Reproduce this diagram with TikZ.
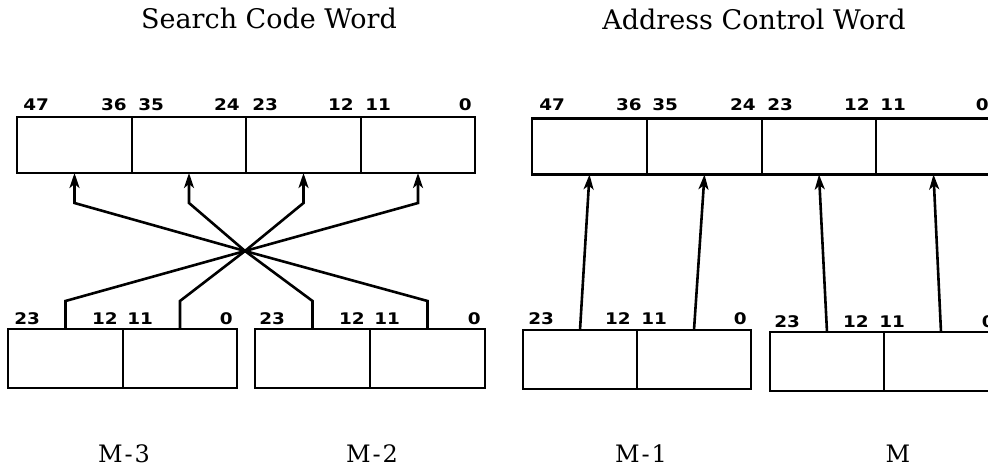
\documentclass[tikz,border=0pt]{standalone}
\usepackage{fontspec}
\setmainfont{DejaVu Serif}
\newfontfamily\bitfont{DejaVu Sans}[FakeStretch=1.15]
\usetikzlibrary{arrows.meta}
\begin{document}
\begin{tikzpicture}[x=1pt,y=-1pt,line width=2.6pt,
  cell/.style={draw,rectangle,inner sep=0pt,outer sep=0pt,minimum width=#1},
  toph/.style={minimum height=56pt},
  both/.style={minimum height=59pt},
  bit/.style={font={\bitfont\bfseries\fontsize{16pt}{16pt}\selectfont},inner sep=0pt},
  bitl/.style={bit,anchor=base west},
  bitr/.style={bit,anchor=base east},
  title/.style={font={\fontsize{27pt}{27pt}\selectfont},inner sep=0pt,anchor=base},
  mname/.style={font={\fontsize{24pt}{24pt}\selectfont},inner sep=0pt,anchor=base},
  conn/.style={line width=2.6pt,line join=miter},
  arr/.style={-{Stealth[length=15pt,width=10pt,inset=4pt]}}]
\useasboundingbox (0,0) rectangle (988,470);
\clip (0,0) rectangle (988,470);

% titles
\node[title] (tsearch) at (269,29) {Search Code Word};
\node[title] (taddr) at (754,30) {Address Control Word};

% ---------- left: search code word ----------
\node[cell=115pt,toph] (t1) at (74.5,145) {};
\node[cell=114pt,toph] (t2) at (189,145) {};
\node[cell=115pt,toph] (t3) at (303.5,145) {};
\node[cell=114pt,toph] (t4) at (418,145) {};
\node[bitl] (l47) at (22,111) {47};
\node[bitr] (l36) at (128,111) {36};
\node[bitl] (l35) at (137,111) {35};
\node[bitr] (l24) at (241,111) {24};
\node[bitl] (l23) at (251,111) {23};
\node[bitr] (l12) at (355,111) {12};
\node[bitl] (l11) at (364,111) {11};
\node[bitr] (l0) at (473,111) {0};

% M-3 and M-2
\node[cell=115pt,both] (b1) at (65.5,358.5) {};
\node[cell=114pt,both] (b2) at (180,358.5) {};
\node[cell=115pt,both] (b3) at (312.5,358.5) {};
\node[cell=115pt,both] (b4) at (427.5,358.5) {};
\node[bitl] (m3a) at (13,324) {23};
\node[bitr] (m3b) at (119,324) {12};
\node[bitl] (m3c) at (126,324) {11};
\node[bitr] (m3d) at (234,324) {0};
\node[bitl] (m2a) at (258,324) {23};
\node[bitr] (m2b) at (366,324) {12};
\node[bitl] (m2c) at (373,324) {11};
\node[bitr] (m2d) at (482,324) {0};

\coordinate (X) at (245,251);
\draw[conn,arr] (b1.north) -- ++(0,-28) -- (X) -- ([yshift=-30pt]t4.south) -- (t4.south);
\draw[conn,arr] (b2.north) -- ++(0,-28) -- (X) -- ([yshift=-30pt]t3.south) -- (t3.south);
\draw[conn,arr] (b3.north) -- ++(0,-28) -- (X) -- ([yshift=-30pt]t2.south) -- (t2.south);
\draw[conn,arr] (b4.north) -- ++(0,-28) -- (X) -- ([yshift=-30pt]t1.south) -- (t1.south);

% ---------- right: address control word ----------
\node[cell=115pt,toph] (r1) at (589.5,146.5) {};
\node[cell=115pt,toph] (r2) at (704.5,146.5) {};
\node[cell=114pt,toph] (r3) at (819,146.5) {};
\node[cell=115pt,toph] (r4) at (933.5,146.5) {};
\node[bitl] (q47) at (538,111) {47};
\node[bitr] (q36) at (643,111) {36};
\node[bitl] (q35) at (651,111) {35};
\node[bitr] (q24) at (757,111) {24};
\node[bitl] (q23) at (766,111) {23};
\node[bitr] (q12) at (871,111) {12};
\node[bitl] (q11) at (879,111) {11};
\node[bitr] (q0) at (990,111) {0};

% M-1 and M
\node[cell=114pt,both] (c1) at (580,359.5) {};
\node[cell=114pt,both] (c2) at (694,359.5) {};
\node[cell=114pt,both] (c3) at (827,361.5) {};
\node[cell=114pt,both] (c4) at (941,361.5) {};
\node[bitl] (m1a) at (527,325) {23};
\node[bitr] (m1b) at (632,325) {12};
\node[bitl] (m1c) at (640,325) {11};
\node[bitr] (m1d) at (748,325) {0};
\node[bitl] (m0a) at (773,327) {23};
\node[bitr] (m0b) at (870,327) {12};
\node[bitl] (m0c) at (878,327) {11};
\node[bitr] (m0d) at (996,327) {0};

\draw[conn,arr] (c1.north) -- (r1.south);
\draw[conn,arr] (c2.north) -- (r2.south);
\draw[conn,arr] (c3.north) -- (r3.south);
\draw[conn,arr] (c4.north) -- (r4.south);

% register names
\node[mname] (n3) at (124,462) {M\kern2pt-\kern2pt3};
\node[mname] (n2) at (372,462) {M\kern2pt-\kern2pt2};
\node[mname] (n1) at (641,462) {M\kern2pt-\kern2pt1};
\node[mname] (n0) at (898,462) {M};
\end{tikzpicture}
\end{document}
